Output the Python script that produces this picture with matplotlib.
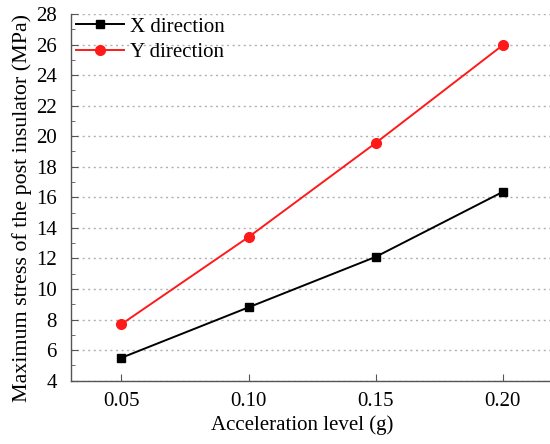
import matplotlib
matplotlib.use("Agg")
import matplotlib.pyplot as plt
from matplotlib.ticker import MultipleLocator

plt.rcParams['font.family'] = ['Liberation Serif', 'DejaVu Serif']

accel = [0.05, 0.10, 0.15, 0.20]
stress_x = [5.5, 8.8, 12.1, 16.35]
stress_y = [7.7, 13.4, 19.55, 25.95]

fig = plt.figure(figsize=(5.5, 4.44), dpi=100)
ax = fig.add_axes([0.1285, 0.1426, 0.924, 0.826])

ax.plot(accel, stress_x, color="black", marker="s", markersize=6, lw=1.4, label="X direction")
ax.plot(accel, stress_y, color="#ff1a1a", marker="o", markersize=7, lw=1.4, label="Y direction")

ax.set_xlim(0.03, 0.23)
ax.set_ylim(4, 28)
ax.set_xticks(accel)
ax.set_xticklabels(["0.05", "0.10", "0.15", "0.20"])
ax.yaxis.set_major_locator(MultipleLocator(2))
ax.yaxis.set_minor_locator(MultipleLocator(1))
ax.yaxis.grid(True, which="major", linestyle=(0, (1.5, 2.5)), color="#b0b0b0", lw=1)
ax.set_axisbelow(True)

for s in ["top", "right"]:
    ax.spines[s].set_visible(False)
for s in ["left", "bottom"]:
    ax.spines[s].set_color("#555555")
    ax.spines[s].set_linewidth(1)

ax.tick_params(axis="both", which="major", direction="in", length=5, color="#555555", labelsize=15)
ax.tick_params(axis="y", which="minor", direction="in", length=3, color="#555555")
ax.tick_params(axis="x", pad=8)
ax.tick_params(axis="y", pad=10)

ax.set_xlabel("Acceleration level (g)", fontsize=15)
ax.xaxis.set_label_coords(0.455, -0.095)
ax.set_ylabel("Maximum stress of the post insulator (MPa)", fontsize=15.8)
ax.yaxis.set_label_coords(-0.076, 0.47)

ax.legend(loc="upper left", frameon=False, fontsize=15, handlelength=2.3, borderaxespad=0.1,
          handletextpad=0.3, labelspacing=0.3, bbox_to_anchor=(-0.01, 1.02))

fig.savefig("out.png", dpi=100)
